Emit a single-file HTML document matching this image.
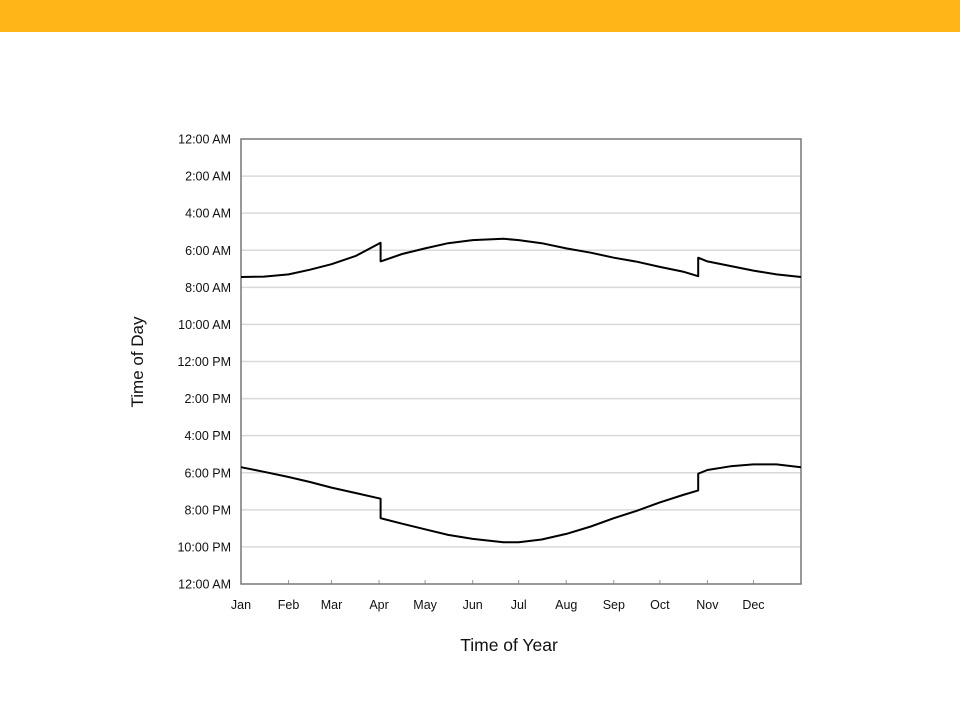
<!DOCTYPE html>
<html><head><meta charset="utf-8"><style>
body{margin:0;width:960px;height:720px;background:#fff;font-family:"Liberation Sans",sans-serif;overflow:hidden}
</style></head><body>
<div style="position:absolute;left:0;top:0;width:960px;height:32px;background:#fdb518"></div>
<svg id="chart" width="960" height="720" style="position:absolute;left:0;top:0" font-family="Liberation Sans, sans-serif"></svg>
<script>
const monthLabels=["Jan","Feb","Mar","Apr","May","Jun","Jul","Aug","Sep","Oct","Nov","Dec"];
const monthStartDays=[0,31,59,90,120,151,181,212,243,273,304,334];
const yTickLabels=["12:00 AM","2:00 AM","4:00 AM","6:00 AM","8:00 AM","10:00 AM","12:00 PM","2:00 PM","4:00 PM","6:00 PM","8:00 PM","10:00 PM","12:00 AM"];
const sunriseDays=[0,15,31,45,59,75,91,91,105,120,135,151,171,181,196,212,228,243,258,273,288,298,298,304,319,334,349,365];
const sunriseHours=[7.44,7.42,7.3,7.05,6.75,6.3,5.6,6.6,6.2,5.9,5.62,5.45,5.38,5.45,5.62,5.9,6.13,6.4,6.62,6.9,7.15,7.4,6.4,6.6,6.85,7.1,7.3,7.44];
const sunsetDays=[0,15,31,45,59,75,91,91,105,120,135,151,171,181,196,212,228,243,258,273,288,298,298,304,319,334,349,365];
const sunsetHours=[17.7,17.95,18.23,18.5,18.8,19.1,19.4,20.45,20.75,21.05,21.35,21.57,21.75,21.75,21.6,21.3,20.9,20.45,20.05,19.6,19.2,18.95,18.05,17.85,17.65,17.55,17.55,17.7];
const L=241,T=139,R=801,B=584;
const x=d=>L+d*(R-L)/365, y=h=>T+h*(B-T)/24;
const svg=document.getElementById('chart');const NS="http://www.w3.org/2000/svg";
function mk(t,a,p){const e=document.createElementNS(NS,t);for(const k in a)e.setAttribute(k,a[k]);(p||svg).appendChild(e);return e;}
yTickLabels.forEach((lab,i)=>{const h=i*2;
 if(i>0&&i<12){const g=mk('line',{x1:L,x2:R,y1:y(h),y2:y(h),stroke:'#d9d9d9','stroke-width':1.5});
 
 }
 const t=mk('text',{x:231,y:y(h)+4.5,'text-anchor':'end','font-size':12.5,fill:'#111'});t.textContent=lab;
 
 
});
monthLabels.forEach((m,i)=>{const xx=x(monthStartDays[i]);
 const tk=mk('line',{x1:xx,x2:xx,y1:B,y2:B-4,stroke:'#999'});
 
 
 const t=mk('text',{x:xx,y:609,'text-anchor':'middle','font-size':12.5,fill:'#111'});t.textContent=m;
 
 
});
const fr=mk('rect',{x:L,y:T,width:R-L,height:B-T,fill:'none',stroke:'#777','stroke-width':1.5});


function line(ds,hs,name){const p=ds.map((d,i)=>x(d).toFixed(1)+','+y(hs[i]).toFixed(1)).join(' ');
 const e=mk('polyline',{points:p,fill:'none',stroke:'#000','stroke-width':2,'stroke-linejoin':'round'});
 
 }
line(sunriseDays,sunriseHours,'sunrise-line');
line(sunsetDays,sunsetHours,'sunset-line');
const yt=mk('text',{x:0,y:0,transform:'translate(143,362) rotate(-90)','text-anchor':'middle','font-size':17,fill:'#111'});yt.textContent='Time of Day';


const xt=mk('text',{x:509,y:651,'text-anchor':'middle','font-size':17.5,fill:'#111'});xt.textContent='Time of Year';


</script>
</body></html>
